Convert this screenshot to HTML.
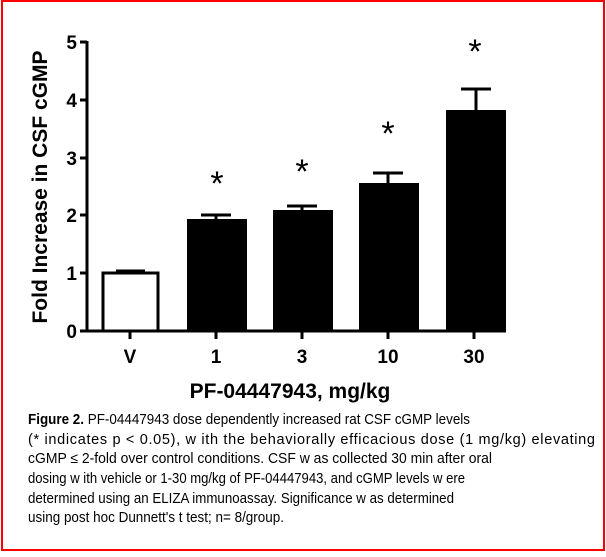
<!DOCTYPE html>
<html><head><meta charset="utf-8"><style>html,body{margin:0;padding:0;background:#fff}</style></head>
<body>
<svg width="606" height="552" viewBox="0 0 606 552" xmlns="http://www.w3.org/2000/svg" font-family="Liberation Sans, sans-serif">
<rect x="2" y="1" width="602" height="549" fill="#fff" stroke="#f00" stroke-width="2"/>
<g stroke="#000" stroke-width="3" fill="none">
<line x1="87" y1="41" x2="87" y2="332"/>
<line x1="85" y1="331" x2="506" y2="331"/>
<line x1="80" y1="42" x2="87" y2="42"/>
<line x1="80" y1="100" x2="87" y2="100"/>
<line x1="80" y1="158" x2="87" y2="158"/>
<line x1="80" y1="215" x2="87" y2="215"/>
<line x1="80" y1="273" x2="87" y2="273"/>
<line x1="80" y1="331" x2="87" y2="331"/>
<line x1="130" y1="331" x2="130" y2="339"/>
<line x1="216" y1="331" x2="216" y2="339"/>
<line x1="302" y1="331" x2="302" y2="339"/>
<line x1="388" y1="331" x2="388" y2="339"/>
<line x1="474" y1="331" x2="474" y2="339"/>
</g>
<g stroke="#000" stroke-width="3">
<line x1="130" y1="271" x2="130" y2="273"/><line x1="116" y1="271" x2="145" y2="271"/>
<line x1="216" y1="215" x2="216" y2="220"/><line x1="201" y1="215" x2="231" y2="215"/>
<line x1="302" y1="206" x2="302" y2="211"/><line x1="287" y1="206" x2="317" y2="206"/>
<line x1="388" y1="173" x2="388" y2="184"/><line x1="373" y1="173" x2="403" y2="173"/>
<line x1="476" y1="89" x2="476" y2="111"/><line x1="461" y1="89" x2="491" y2="89"/>
</g>
<rect x="103" y="273" width="55" height="58" fill="#fff" stroke="#000" stroke-width="3"/>
<rect x="187" y="219" width="60" height="112" fill="#000"/>
<rect x="273" y="210" width="60" height="121" fill="#000"/>
<rect x="359" y="183" width="60" height="148" fill="#000"/>
<rect x="446" y="110" width="60" height="221" fill="#000"/>
<g font-size="34" text-anchor="middle">
<text x="217" y="195">*</text><text x="302" y="183">*</text><text x="388" y="145">*</text><text x="475" y="63">*</text>
</g>
<g font-size="19" font-weight="bold" text-anchor="end">
<text x="77" y="49">5</text><text x="77" y="107">4</text><text x="77" y="165">3</text><text x="77" y="222">2</text><text x="77" y="280">1</text><text x="77" y="338">0</text>
</g>
<g font-size="19" font-weight="bold" text-anchor="middle">
<text x="130" y="363">V</text><text x="216" y="363">1</text><text x="302" y="363">3</text><text x="388" y="363">10</text><text x="474" y="363">30</text>
</g>
<text x="290" y="398" font-size="21" font-weight="bold" text-anchor="middle">PF-04447943, mg/kg</text>
<text transform="translate(47,187) rotate(-90)" font-size="21" font-weight="bold" text-anchor="middle">Fold Increase in CSF cGMP</text>
<g font-size="14.5">
<text x="28" y="424" textLength="442" lengthAdjust="spacingAndGlyphs"><tspan font-weight="bold">Figure 2.</tspan> PF-04447943 dose dependently increased rat CSF cGMP levels</text>
<text x="28" y="444" textLength="567" lengthAdjust="spacing">(* indicates p &lt; 0.05), w ith the behaviorally efficacious dose (1 mg/kg) elevating</text>
<text x="28" y="463" textLength="464" lengthAdjust="spacingAndGlyphs">cGMP &#8804; 2-fold over control conditions. CSF w as collected 30 min after oral</text>
<text x="28" y="483" textLength="437" lengthAdjust="spacingAndGlyphs">dosing w ith vehicle or 1-30 mg/kg of PF-04447943, and cGMP levels w ere</text>
<text x="28" y="503" textLength="426" lengthAdjust="spacingAndGlyphs">determined using an ELIZA immunoassay. Significance w as determined</text>
<text x="28" y="522" textLength="256" lengthAdjust="spacingAndGlyphs">using post hoc Dunnett's t test; n= 8/group.</text>
</g>
</svg>
</body></html>
